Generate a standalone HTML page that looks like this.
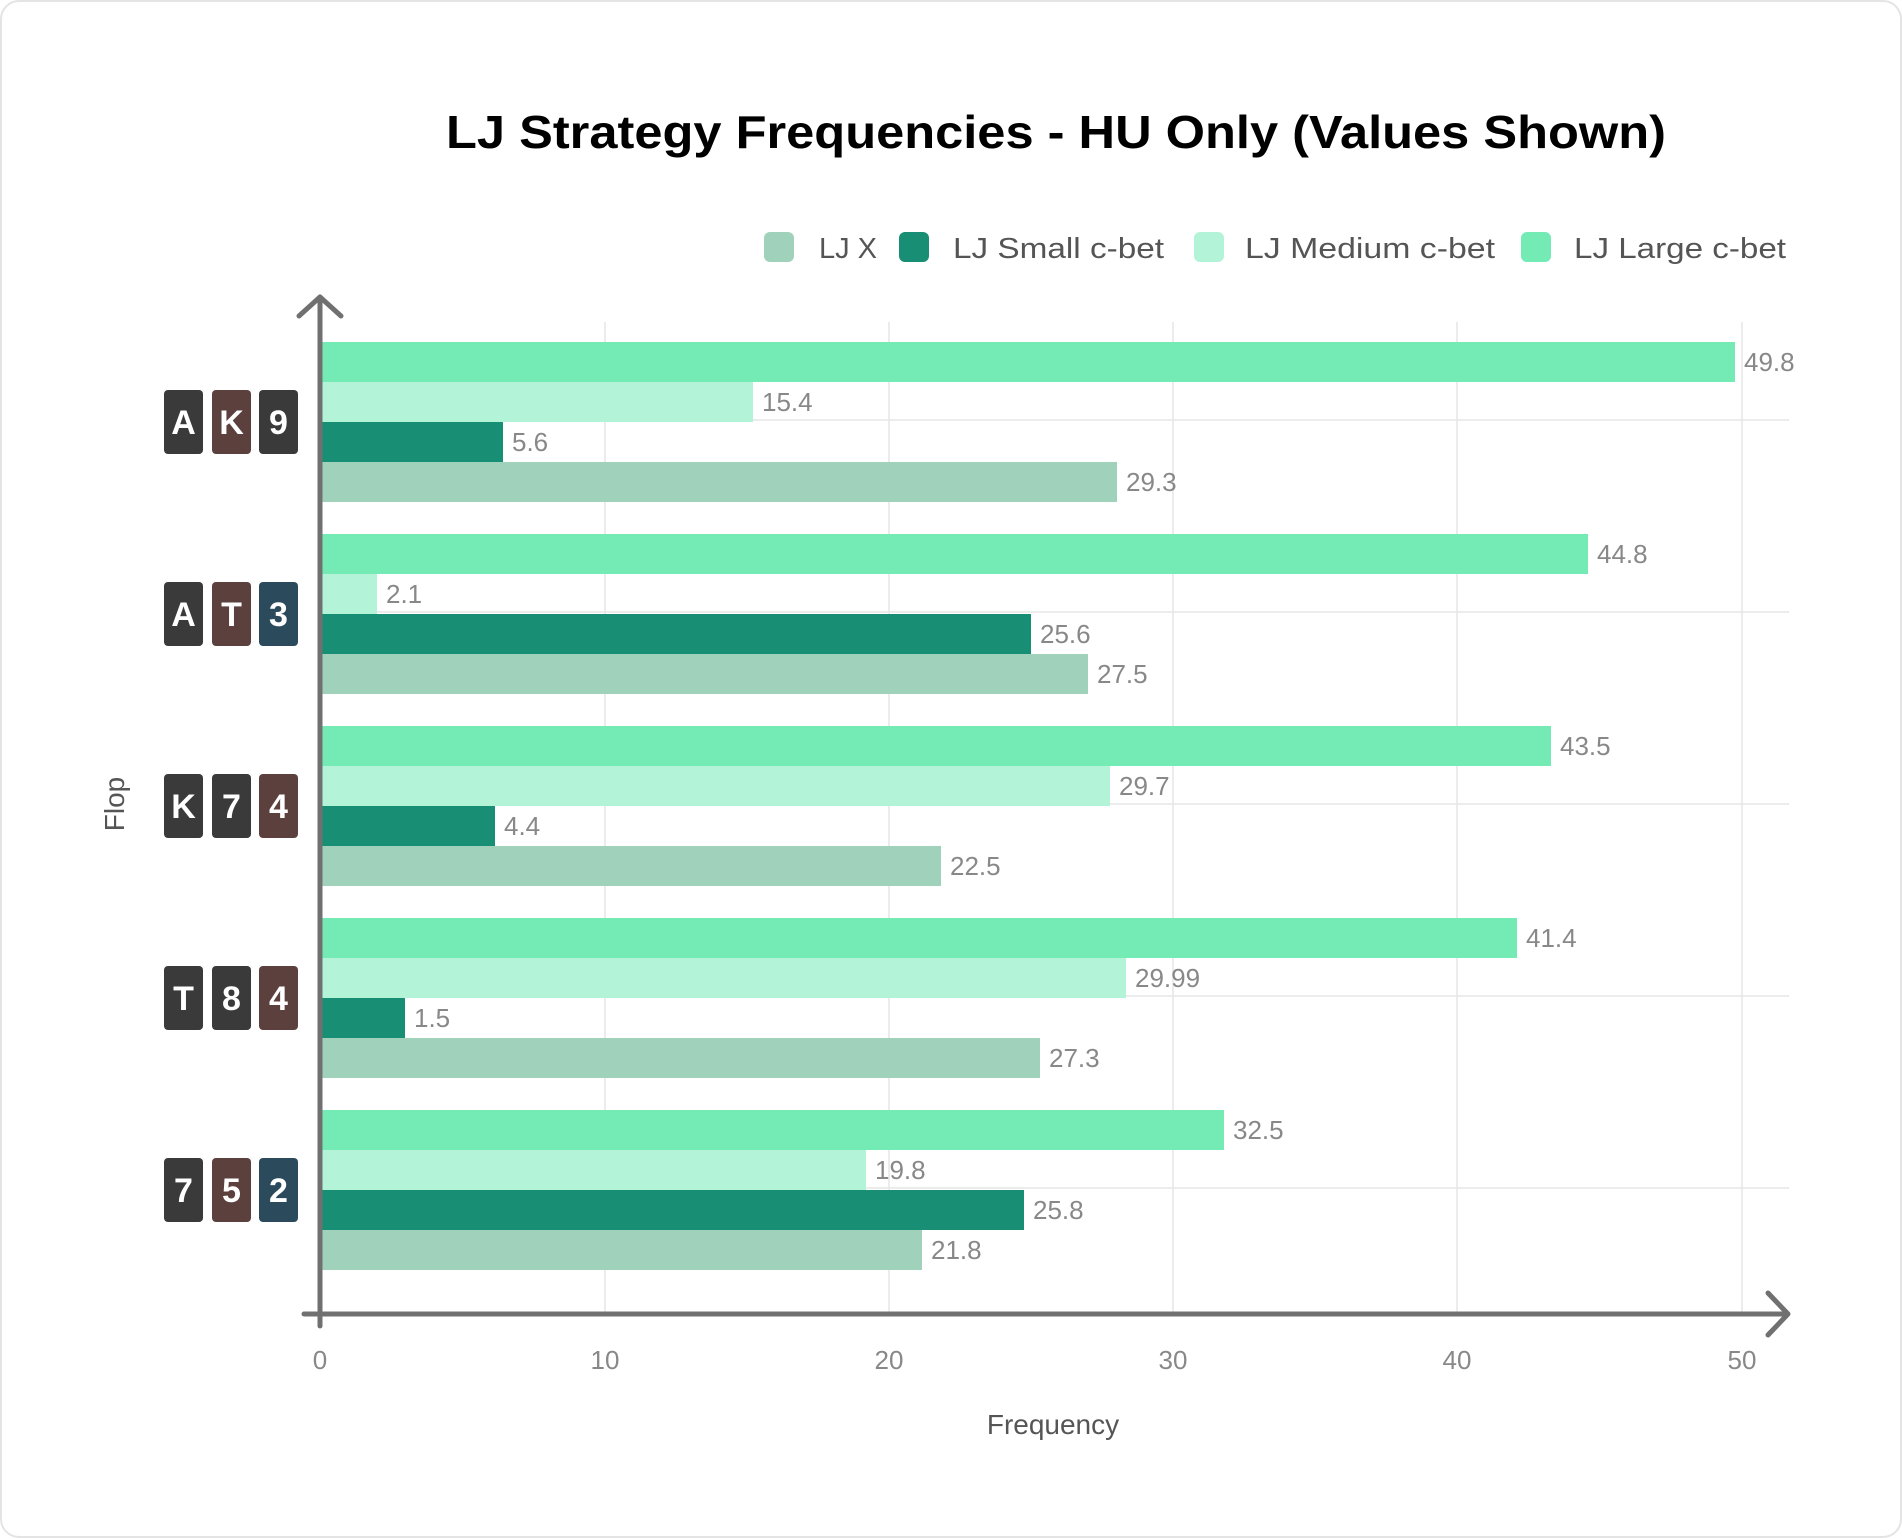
<!DOCTYPE html>
<html><head><meta charset="utf-8"><style>
html,body{margin:0;padding:0;background:#fff;}
svg{display:block;}
text{font-family:"Liberation Sans",sans-serif;}
</style></head><body>
<svg width="1902" height="1538" viewBox="0 0 1902 1538" xmlns="http://www.w3.org/2000/svg">
<rect x="1" y="1" width="1900" height="1536" rx="18" fill="#fff" stroke="#e4e4e4" stroke-width="2"/>
<text x="1056" y="148" text-anchor="middle" font-size="46" font-weight="bold" fill="#000" textLength="1220" lengthAdjust="spacingAndGlyphs">LJ Strategy Frequencies - HU Only (Values Shown)</text>
<g font-size="29" fill="#555">
<rect x="764" y="232" width="30" height="30" rx="6" fill="#a0d1bb"/><text x="819" y="258">LJ X</text>
<rect x="899" y="232" width="30" height="30" rx="6" fill="#188f74"/><text x="953" y="258" textLength="211" lengthAdjust="spacingAndGlyphs">LJ Small c-bet</text>
<rect x="1194" y="232" width="30" height="30" rx="6" fill="#b3f3d7"/><text x="1245" y="258" textLength="250" lengthAdjust="spacingAndGlyphs">LJ Medium c-bet</text>
<rect x="1521" y="232" width="30" height="30" rx="6" fill="#74ebb4"/><text x="1574" y="258" textLength="212" lengthAdjust="spacingAndGlyphs">LJ Large c-bet</text>
</g>
<g stroke="#e6e6e6" stroke-width="1.5">
<line x1="605" y1="322" x2="605" y2="1314"/><line x1="889" y1="322" x2="889" y2="1314"/><line x1="1173" y1="322" x2="1173" y2="1314"/><line x1="1457" y1="322" x2="1457" y2="1314"/><line x1="1742" y1="322" x2="1742" y2="1314"/>
<line x1="320" y1="420" x2="1789" y2="420"/><line x1="320" y1="612" x2="1789" y2="612"/><line x1="320" y1="804" x2="1789" y2="804"/><line x1="320" y1="996" x2="1789" y2="996"/><line x1="320" y1="1188" x2="1789" y2="1188"/>
</g>
<g id="bars"></g>
<g font-size="26" fill="#888" id="labels"></g>
<g stroke="#707070" stroke-width="5" fill="none" stroke-linecap="round" stroke-linejoin="round">
<line x1="320" y1="297" x2="320" y2="1326"/>
<polyline points="299,316 320,297 341,316"/>
<line x1="304" y1="1314" x2="1787" y2="1314"/>
<polyline points="1768,1293 1788,1314 1768,1335"/>
</g>
<g font-size="26" fill="#888" text-anchor="middle">
<text x="320" y="1369">0</text><text x="605" y="1369">10</text><text x="889" y="1369">20</text><text x="1173" y="1369">30</text><text x="1457" y="1369">40</text><text x="1742" y="1369">50</text>
</g>
<text x="1053" y="1434" font-size="28" fill="#555" text-anchor="middle">Frequency</text>
<text transform="translate(124,804) rotate(-90)" font-size="28" fill="#555" text-anchor="middle">Flop</text>
<g id="cards" font-size="34" font-weight="bold" fill="#fff" text-anchor="middle"></g>
<script>
var ns="http://www.w3.org/2000/svg";
var data=[["49.8","15.4","5.6","29.3"],["44.8","2.1","25.6","27.5"],["43.5","29.7","4.4","22.5"],["41.4","29.99","1.5","27.3"],["32.5","19.8","25.8","21.8"]];
var ends=[[1735,753,503,1117],[1588,377,1031,1088],[1551,1110,495,941],[1517,1126,405,1040],[1224,866,1024,922]];
var cols=["#74ebb4","#b3f3d7","#188f74","#a0d1bb"];
var cards=[["A","K","9"],["A","T","3"],["K","7","4"],["T","8","4"],["7","5","2"]];
var cc=[["#3a3a3a","#5b403d","#3a3a3a"],["#3a3a3a","#5b403d","#2b4b5c"],["#3a3a3a","#3a3a3a","#5b403d"],["#3a3a3a","#3a3a3a","#5b403d"],["#3a3a3a","#5b403d","#2b4b5c"]];
var B=document.getElementById("bars"),L=document.getElementById("labels"),C=document.getElementById("cards");
function el(t,a,p){var e=document.createElementNS(ns,t);for(var k in a)e.setAttribute(k,a[k]);p.appendChild(e);return e;}
for(var g=0;g<5;g++){var y0=342+g*192;
 for(var i=0;i<4;i++){var e=ends[g][i],y=y0+i*40;
  el("rect",{x:322,y:y,width:e-322,height:40,fill:cols[i]},B);
  var t=el("text",{x:e+9,y:y+29},L);t.textContent=data[g][i];}
 var cy=y0+80;var xs=[164,212,259];
 for(var j=0;j<3;j++){el("rect",{x:xs[j],y:cy-32,width:39,height:64,rx:4,fill:cc[g][j]},C);
  var t2=el("text",{x:xs[j]+19.5,y:cy+12},C);t2.textContent=cards[g][j];}
}
</script>
</svg>
</body></html>
